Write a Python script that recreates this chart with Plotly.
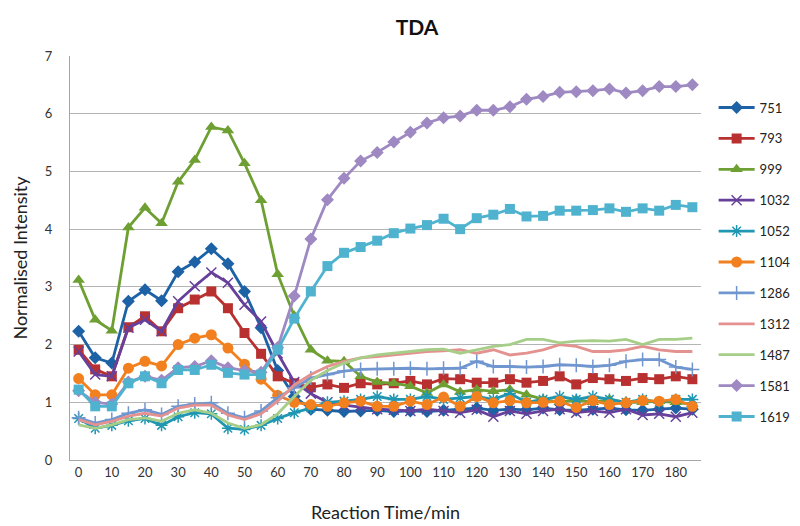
import plotly.graph_objects as go

# Reaction time categories (min)
time_min = list(range(0, 190, 5))
tick_labels = list(range(0, 190, 10))

s751 = [2.23, 1.77, 1.68, 2.75, 2.95, 2.76, 3.26, 3.43, 3.66, 3.40, 2.92, 2.29, 1.55,
        1.10, 0.88, 0.86, 0.84, 0.85, 0.86, 0.84, 0.85, 0.84, 0.86, 0.88, 0.90, 0.86,
        0.88, 0.87, 0.90, 0.87, 0.86, 0.88, 0.90, 0.87, 0.86, 0.88, 0.90, 0.88]
s793 = [1.91, 1.57, 1.45, 2.30, 2.49, 2.23, 2.63, 2.78, 2.92, 2.63, 2.20, 1.84, 1.45,
        1.33, 1.26, 1.31, 1.25, 1.33, 1.31, 1.33, 1.37, 1.31, 1.41, 1.40, 1.34, 1.34,
        1.40, 1.34, 1.37, 1.45, 1.31, 1.42, 1.40, 1.37, 1.42, 1.40, 1.45, 1.40]
s999 = [3.12, 2.43, 2.24, 4.03, 4.37, 4.10, 4.82, 5.20, 5.77, 5.71, 5.14, 4.50, 3.22,
        2.50, 1.91, 1.72, 1.71, 1.45, 1.35, 1.33, 1.28, 1.16, 1.31, 1.18, 1.22, 1.19,
        1.22, 1.13, 1.05, 1.00, 1.05, 1.00, 1.05, 1.00, 1.00, 1.02, 1.00, 0.97]
s1032 = [1.88, 1.48, 1.45, 2.29, 2.43, 2.23, 2.75, 3.01, 3.25, 3.07, 2.69, 2.40, 1.85,
         1.35, 1.15, 1.00, 0.95, 0.92, 0.88, 0.87, 0.85, 0.88, 0.85, 0.82, 0.87, 0.75,
         0.85, 0.80, 0.85, 0.88, 0.82, 0.85, 0.82, 0.88, 0.78, 0.80, 0.75, 0.82]
s1052 = [0.72, 0.55, 0.60, 0.68, 0.72, 0.60, 0.75, 0.82, 0.80, 0.55, 0.53, 0.60, 0.72,
         0.82, 0.90, 1.00, 1.02, 1.05, 1.10, 1.05, 1.05, 1.10, 1.05, 1.08, 1.10, 1.05,
         1.15, 1.00, 1.05, 1.10, 1.05, 1.10, 1.05, 1.00, 1.05, 1.00, 1.05, 1.05]
s1104 = [1.41, 1.13, 1.13, 1.59, 1.71, 1.63, 2.00, 2.11, 2.17, 1.94, 1.66, 1.40, 1.12,
         1.00, 0.96, 0.93, 0.99, 1.02, 0.93, 0.93, 1.02, 0.96, 1.09, 0.93, 1.10, 0.99,
         1.03, 0.99, 1.00, 1.02, 0.91, 1.03, 0.96, 0.99, 1.03, 1.02, 1.05, 0.93]
s1286 = [0.73, 0.64, 0.70, 0.81, 0.87, 0.79, 0.93, 0.97, 0.99, 0.81, 0.73, 0.85, 1.08,
         1.25, 1.42, 1.48, 1.54, 1.57, 1.58, 1.58, 1.59, 1.58, 1.59, 1.59, 1.71, 1.62,
         1.62, 1.61, 1.62, 1.65, 1.64, 1.62, 1.64, 1.71, 1.74, 1.74, 1.61, 1.57]
s1312 = [0.70, 0.61, 0.67, 0.76, 0.81, 0.76, 0.90, 0.95, 0.95, 0.78, 0.70, 0.80, 1.02,
         1.30, 1.48, 1.62, 1.71, 1.77, 1.79, 1.82, 1.85, 1.88, 1.89, 1.91, 1.85, 1.91,
         1.82, 1.85, 1.91, 2.00, 1.97, 1.88, 1.88, 1.91, 1.97, 1.91, 1.88, 1.88]
s1487 = [0.61, 0.55, 0.61, 0.70, 0.73, 0.67, 0.81, 0.87, 0.81, 0.64, 0.55, 0.61, 0.80,
         1.10, 1.38, 1.55, 1.68, 1.77, 1.82, 1.85, 1.88, 1.91, 1.92, 1.85, 1.91, 1.97,
         2.00, 2.09, 2.09, 2.03, 2.06, 2.07, 2.06, 2.09, 2.00, 2.09, 2.09, 2.11]
s1581 = [1.20, 1.00, 0.97, 1.35, 1.45, 1.38, 1.60, 1.62, 1.72, 1.60, 1.55, 1.52, 1.95,
         2.84, 3.83, 4.51, 4.88, 5.18, 5.33, 5.51, 5.68, 5.84, 5.93, 5.96, 6.06, 6.06,
         6.12, 6.25, 6.30, 6.37, 6.38, 6.40, 6.43, 6.36, 6.40, 6.47, 6.47, 6.50]
s1619 = [1.22, 0.93, 0.93, 1.33, 1.45, 1.33, 1.56, 1.56, 1.65, 1.51, 1.48, 1.48, 1.91,
         2.45, 2.92, 3.36, 3.59, 3.69, 3.80, 3.93, 4.01, 4.07, 4.18, 4.00, 4.19, 4.25,
         4.35, 4.22, 4.23, 4.32, 4.32, 4.33, 4.36, 4.30, 4.36, 4.32, 4.42, 4.38]

series = [
    ("751", s751, "#1E62A6", "diamond", 10),
    ("793", s793, "#B8302F", "square", 10),
    ("999", s999, "#6E9F32", "triangle-up", 11),
    ("1032", s1032, "#66409A", "x-thin", 10),
    ("1052", s1052, "#1F96B2", "asterisk-open", 10),
    ("1104", s1104, "#F2801E", "circle", 11),
    ("1286", s1286, "#7096D0", "cross-thin", 10),
    ("1312", s1312, "#E4928F", None, 0),
    ("1487", s1487, "#A6CE88", None, 0),
    ("1581", s1581, "#9E89C2", "diamond", 10),
    ("1619", s1619, "#4FB3CF", "square", 10),
]

font_family = "Lato, 'Open Sans', sans-serif"

fig = go.Figure()
for name, vals, color, symbol, size in series:
    if symbol is None:
        mode = "lines"
        marker = dict()
    else:
        mode = "lines+markers"
        thin = symbol in ("x-thin", "asterisk-open", "cross-thin")
        marker = dict(symbol=symbol, size=size, color=color,
                      line=dict(color=color, width=1.5 if thin else 0))
    fig.add_trace(go.Scatter(
        x=time_min, y=vals, name=name, mode=mode,
        line=dict(color=color, width=2.8),
        marker=marker, legendgroup=name,
    ))

fig.update_layout(
    width=800, height=526,
    margin=dict(l=62, r=98, t=48, b=74),
    paper_bgcolor="white", plot_bgcolor="white",
    font=dict(family=font_family, color="#222222", size=13),
    title=dict(text="<b>TDA</b>", x=0.55, xref="paper", xanchor="center",
               y=0.962, yref="container", yanchor="middle",
               font=dict(size=21, color="#111111", family=font_family)),
    xaxis=dict(
        range=[-2.6, 187.6], tickmode="array", tickvals=tick_labels,
        ticktext=[str(t) for t in tick_labels],
        showgrid=False, zeroline=False, showline=True, linecolor="#A6A6A6",
        linewidth=1, ticks="", tickfont=dict(size=13, color="#333333"),
        title=dict(text="Reaction Time/min", font=dict(size=18, color="#222222"),
                   standoff=27),
    ),
    yaxis=dict(
        range=[0, 7], dtick=1, showgrid=True, gridcolor="#B4B4B4", gridwidth=1,
        zeroline=False, showline=True, linecolor="#A6A6A6", linewidth=1,
        ticks="", ticklabelstandoff=14, tickfont=dict(size=13, color="#333333"),
        title=dict(text="Normalised Intensity", font=dict(size=18, color="#222222"),
                   standoff=12),
    ),
    legend=dict(x=1.02, xanchor="left", y=0.49, yanchor="middle",
                font=dict(size=13, color="#222222"), tracegroupgap=11,
                itemwidth=36, bgcolor="rgba(0,0,0,0)"),
    showlegend=True,
)

fig.write_html("out.html")
